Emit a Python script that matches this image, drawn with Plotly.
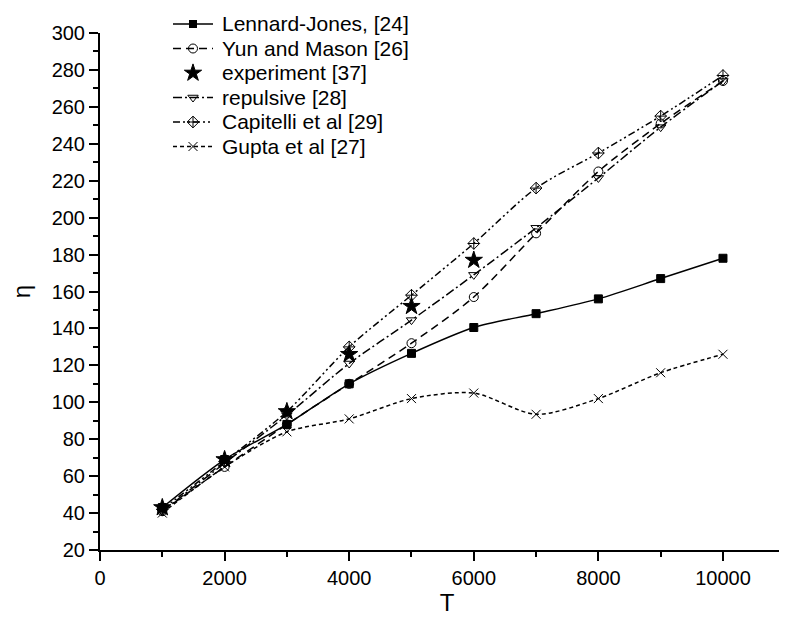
import plotly.graph_objects as go

T = [1000, 2000, 3000, 4000, 5000, 6000, 7000, 8000, 9000, 10000]
T_exp = [1000, 2000, 3000, 4000, 5000, 6000]

lennard_jones = [43, 69, 88, 110, 126.5, 140.5, 148, 156, 167, 178]
yun_mason = [41, 65, 88, 110, 132, 157, 191.5, 225, 251, 274]
experiment = [43, 69, 95, 126, 152, 177]
repulsive = [41, 67, 93, 121, 144.5, 169, 194.5, 221.5, 249, 274]
capitelli = [42, 68, 95, 130, 158, 186, 216, 235, 255, 277]
gupta = [40, 65, 84, 91, 102, 105, 93.5, 102, 116, 126]

names = ["Lennard-Jones, [24]", "Yun and Mason [26]", "experiment [37]",
         "repulsive [28]", "Capitelli et al [29]", "Gupta et al [27]"]

FONT = "Liberation Sans, Arial, Helvetica, sans-serif"

# plot area in pixels
L, R, TOP, BOT = 92, 786, 25, 542
W, H = 787, 621


def px(x):
    return (x - L) / (R - L)


def py(y):
    return (BOT - y) / (BOT - TOP)


styles = [
    ("solid", "square", 8),
    ("8px,5px", "circle-open", 9),
    (None, "star", 13),
    ("9px,3px,2px,3px", "triangle-down-open", 9),
    ("7px,3px,2px,3px,2px,3px", "diamond-cross-open", 9),
    ("4px,3px", "x-thin-open", 9),
]
data = [(T, lennard_jones), (T, yun_mason), (T_exp, experiment),
        (T, repulsive), (T, capitelli), (T, gupta)]

fig = go.Figure()

for name, (xs, ys), (dash, sym, size) in zip(names, data, styles):
    marker = dict(symbol=sym, size=size, color="black", line=dict(color="black", width=1))
    if dash is None:
        fig.add_trace(go.Scatter(x=xs, y=ys, name=name, mode="markers",
                                 marker=marker, showlegend=False))
    else:
        fig.add_trace(go.Scatter(
            x=xs, y=ys, name=name, mode="lines+markers", marker=marker, showlegend=False,
            line=dict(color="black", width=1.5, dash=dash, shape="spline", smoothing=0.8),
        ))

# hand-made legend (tight rows, like the original)
rows = [16, 40.5, 65, 89.5, 114, 138.5]
for name, (dash, sym, size), ry in zip(names, styles, rows):
    if dash is not None:
        fig.add_shape(type="line", xref="paper", yref="paper",
                      x0=px(165), x1=px(205), y0=py(ry), y1=py(ry),
                      line=dict(color="black", width=1.5, dash=dash))
    if ry < TOP:
        # above the plot area: draw the filled square as a shape
        fig.add_shape(type="rect", xref="paper", yref="paper",
                      x0=px(181), x1=px(189), y0=py(ry + 4), y1=py(ry - 4),
                      fillcolor="black", line=dict(width=0))
    else:
        fig.add_trace(go.Scatter(
            x=[185], y=[ry], xaxis="x2", yaxis="y2", mode="markers", cliponaxis=False,
            marker=dict(symbol=sym, size=size, color="black", line=dict(color="black", width=1)),
            showlegend=False, hoverinfo="skip",
        ))
    fig.add_annotation(x=px(212), y=py(ry), xref="paper", yref="paper",
                       text=name, showarrow=False, xanchor="left", yanchor="middle",
                       font=dict(size=21, family=FONT, color="black"))

fig.update_xaxes(
    range=[0, 11140], tickvals=[0, 2000, 4000, 6000, 8000, 10000], tickformat="d",
    ticks="outside", ticklen=9, tickwidth=2, tickcolor="black",
    minor=dict(dtick=1000, ticks="outside", ticklen=5, tickwidth=2, tickcolor="black"),
    showline=True, linewidth=2, linecolor="black", showgrid=False, zeroline=False,
    title=dict(text="T", font=dict(size=24, family=FONT, color="black"), standoff=6),
    tickfont=dict(size=20, family=FONT, color="black"),
)
fig.update_yaxes(
    range=[20, 300], dtick=20,
    ticks="outside", ticklen=9, tickwidth=2, tickcolor="black",
    minor=dict(dtick=10, ticks="outside", ticklen=5, tickwidth=2, tickcolor="black"),
    showline=True, linewidth=2, linecolor="black", showgrid=False, zeroline=False,
    title=dict(text="η", font=dict(size=24, family=FONT, color="black"), standoff=14),
    tickfont=dict(size=20, family=FONT, color="black"),
)

fig.update_layout(
    xaxis2=dict(overlaying="x", range=[L, R], visible=False),
    yaxis2=dict(overlaying="y", range=[BOT, TOP], visible=False),
    width=W, height=H,
    margin=dict(l=L, r=W - R, t=TOP, b=H - BOT, autoexpand=False),
    plot_bgcolor="white", paper_bgcolor="white",
    font=dict(family=FONT, color="black"),
    showlegend=False,
)

fig.write_html("out.html")
